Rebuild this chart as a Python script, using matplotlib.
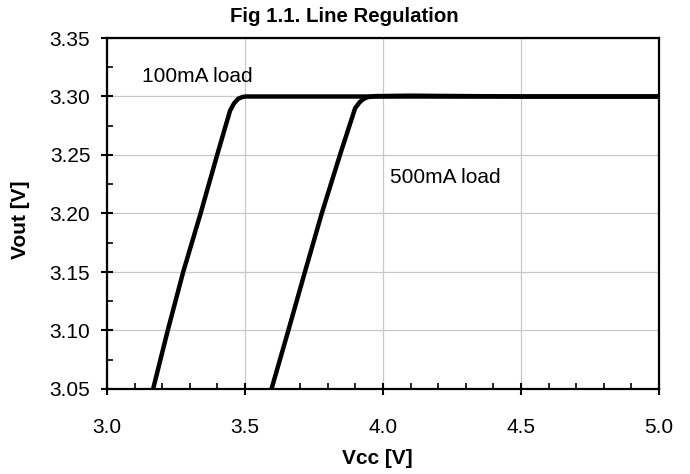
import matplotlib
matplotlib.use("Agg")
import matplotlib.pyplot as plt
from matplotlib.ticker import MultipleLocator, FormatStrFormatter

# 100mA load curve
vcc_100 = [3.167, 3.22, 3.276, 3.339, 3.399, 3.446, 3.46, 3.475, 3.49, 3.50, 4.00, 4.50, 5.00]
vout_100 = [3.05, 3.10, 3.15, 3.20, 3.25, 3.288, 3.294, 3.298, 3.2995, 3.300, 3.300, 3.300, 3.300]

# 500mA load curve
vcc_500 = [3.596, 3.657, 3.717, 3.778, 3.844, 3.899, 3.915, 3.93, 3.945, 3.97, 4.10, 4.20, 4.50, 5.00]
vout_500 = [3.05, 3.10, 3.15, 3.20, 3.25, 3.290, 3.295, 3.298, 3.2995, 3.3003, 3.3007, 3.3005, 3.300, 3.300]

plt.rcParams['font.family'] = ['Liberation Sans', 'DejaVu Sans']

fig = plt.figure(figsize=(6.9, 4.74), dpi=100)
ax = fig.add_axes([107/690, 1 - 389/474, 552/690, 351/474])

ax.plot(vcc_100, vout_100, color='black', lw=3.2, solid_capstyle='butt', solid_joinstyle='round')
ax.plot(vcc_500, vout_500, color='black', lw=3.2, solid_capstyle='butt', solid_joinstyle='round')

ax.text(3.126, 3.317, "100mA load", fontsize=15, va='center', ha='left')
ax.text(4.025, 3.231, "500mA load", fontsize=15, va='center', ha='left')

ax.set_xlim(3.0, 5.0)
ax.set_ylim(3.05, 3.35)
ax.xaxis.set_major_locator(MultipleLocator(0.5))
ax.xaxis.set_minor_locator(MultipleLocator(0.1))
ax.yaxis.set_major_locator(MultipleLocator(0.05))
ax.yaxis.set_minor_locator(MultipleLocator(0.025))
ax.xaxis.set_major_formatter(FormatStrFormatter('%.1f'))
ax.yaxis.set_major_formatter(FormatStrFormatter('%.2f'))

ax.grid(True, which='major', color='#c8c8c8', lw=0.9)
ax.set_axisbelow(True)
ax.tick_params(which='major', direction='inout', length=8, width=1.5, labelsize=15)
ax.tick_params(which='minor', direction='in', length=4, width=1.2)
ax.tick_params(axis='x', which='major', pad=17)
ax.tick_params(axis='y', which='major', pad=8)
for s in ax.spines.values():
    s.set_linewidth(1.6)

fig.text(344/690, 1 - 22/474, "Fig 1.1. Line Regulation", fontsize=14.7, fontweight='bold',
         ha='center', va='baseline')
fig.text(377/690, 1 - 458/474, "Vcc [V]", fontsize=15, fontweight='bold', ha='center', va='center')
fig.text(20/690, 1 - 220/474, "Vout [V]", fontsize=15, fontweight='bold', ha='center', va='center',
         rotation=90)

fig.savefig("out.png", dpi=100)
